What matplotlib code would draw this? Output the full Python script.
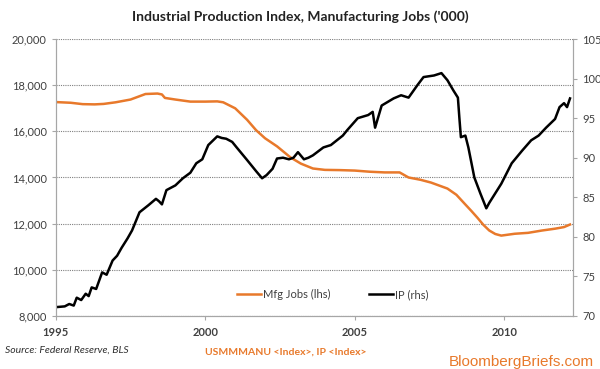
import numpy as np
import matplotlib.pyplot as plt
from matplotlib.ticker import FuncFormatter

# Manufacturing jobs ('000)
jobs_t = [1995.0, 1995.5, 1995.9, 1996.3, 1996.6, 1997.0, 1997.5, 1998.0, 1998.4, 1998.55,
          1998.65, 1999.0, 1999.5, 2000.0, 2000.4, 2000.6, 2001.0, 2001.4, 2001.7, 2002.0,
          2002.4, 2002.85, 2003.2, 2003.6, 2004.0, 2004.5, 2005.0, 2005.5, 2006.0, 2006.5,
          2006.8, 2007.2, 2007.55, 2008.1, 2008.4, 2008.67, 2008.9, 2009.1, 2009.3, 2009.5,
          2009.7, 2009.9, 2010.35, 2010.8, 2011.26, 2011.7, 2012.0, 2012.2]
jobs = [17270, 17240, 17180, 17170, 17190, 17260, 17380, 17620, 17640, 17600,
        17450, 17380, 17290, 17290, 17300, 17260, 17000, 16500, 16050, 15700,
        15350, 14870, 14600, 14390, 14330, 14320, 14300, 14250, 14220, 14220,
        14000, 13900, 13780, 13520, 13250, 12870, 12550, 12260, 11950, 11700,
        11550, 11480, 11560, 11600, 11700, 11780, 11850, 11960]

# Industrial production index
ip_t = [1995.0, 1995.3, 1995.45, 1995.6, 1995.7, 1995.85, 1996.0, 1996.1, 1996.2, 1996.35,
        1996.55, 1996.7, 1996.9, 1997.05, 1997.2, 1997.4, 1997.55, 1997.8, 1998.1, 1998.35,
        1998.45, 1998.55, 1998.7, 1999.0, 1999.25, 1999.5, 1999.7, 1999.9, 2000.1, 2000.4,
        2000.55, 2000.7, 2000.9, 2001.05, 2001.4, 2001.7, 2001.9, 2002.05, 2002.25, 2002.4,
        2002.6, 2002.8, 2002.95, 2003.1, 2003.3, 2003.45, 2003.6, 2003.95, 2004.2, 2004.4,
        2004.6, 2004.75, 2005.1, 2005.45, 2005.6, 2005.68, 2005.9, 2006.3, 2006.55, 2006.8,
        2007.1, 2007.3, 2007.65, 2007.9, 2008.1, 2008.3, 2008.45, 2008.5, 2008.55, 2008.7,
        2008.8, 2009.0, 2009.2, 2009.4, 2009.5, 2009.65, 2009.9, 2010.25, 2010.6, 2010.9,
        2011.15, 2011.4, 2011.7, 2011.85, 2012.0, 2012.1, 2012.2]
ip = [71.1, 71.2, 71.5, 71.3, 72.3, 72.0, 72.8, 72.5, 73.6, 73.4,
      75.5, 75.2, 77.0, 77.6, 78.6, 79.8, 80.8, 83.1, 84.0, 84.8,
      84.5, 84.1, 85.9, 86.5, 87.4, 88.1, 89.3, 89.8, 91.6, 92.7,
      92.5, 92.4, 92.0, 91.3, 89.7, 88.3, 87.4, 87.8, 88.6, 89.9,
      90.0, 89.8, 90.0, 90.7, 89.8, 90.0, 90.3, 91.3, 91.6, 92.2,
      92.8, 93.5, 95.0, 95.4, 95.8, 93.8, 96.6, 97.5, 97.9, 97.6,
      99.2, 100.2, 100.4, 100.7, 99.8, 98.5, 97.6, 95.0, 92.6, 92.8,
      91.3, 87.5, 85.5, 83.6, 84.3, 85.2, 86.7, 89.3, 90.9, 92.2,
      92.8, 93.8, 94.9, 96.4, 96.9, 96.4, 97.5]

orange = '#E8792B'
grey = '#A6A6A6'

plt.rcParams['font.family'] = ['Lato', 'DejaVu Sans']

fig = plt.figure(figsize=(6, 3.69), dpi=100)
ax = fig.add_axes([0.093, 0.144, 0.862, 0.750])
ax2 = ax.twinx()

l1, = ax.plot(jobs_t, jobs, color=orange, lw=1.8, label='Mfg Jobs (lhs)')
l2, = ax2.plot(ip_t, ip, color='black', lw=1.8, label='IP (rhs)')

ax.set_xlim(1995, 2012.3)
ax.set_ylim(8000, 20000)
ax.set_yticks(np.arange(8000, 20001, 2000))
ax.yaxis.set_major_formatter(FuncFormatter(lambda v, p: '{:,.0f}'.format(v)))
ax2.set_ylim(70, 105)
ax2.set_yticks(np.arange(70, 106, 5))
ax.set_xticks([1995, 2000, 2005, 2010])

ax.grid(axis='y', color='#808080', linestyle=(0, (1, 1)), linewidth=0.8)
ax.set_axisbelow(True)

for a in (ax, ax2):
    a.spines['top'].set_visible(False)
    for s in ('left', 'right', 'bottom'):
        a.spines[s].set_color(grey)
    a.tick_params(colors=grey, labelcolor='#404040', labelsize=8, length=3)
ax.tick_params(axis='x', labelsize=8, pad=5)
for lab in ax.get_xticklabels():
    lab.set_fontweight('bold')

ax.legend(handles=[l1, l2], loc='lower center', bbox_to_anchor=(0.535, 0.02), ncol=2,
          frameon=False, fontsize=8, handlelength=2.2, handletextpad=0.1,
          columnspacing=3.5, labelcolor='#404040')

fig.text(0.5, 0.955, "Industrial Production Index, Manufacturing Jobs ('000)",
         ha='center', va='center', fontsize=10, fontweight='bold', color='#222222')
fig.text(0.008, 0.052, 'Source: Federal Reserve, BLS', ha='left', va='center',
         fontsize=7.5, style='italic', color='#303030')
fig.text(0.342, 0.045, 'USMMMANU <Index>, IP <Index>', ha='left', va='center',
         fontsize=7.5, fontweight='bold', color=orange)
fig.text(0.99, 0.02, 'BloombergBriefs.com', ha='right', va='center',
         fontsize=11, color=orange, family=['Liberation Sans', 'DejaVu Sans'])

fig.savefig('out.png', dpi=100)
